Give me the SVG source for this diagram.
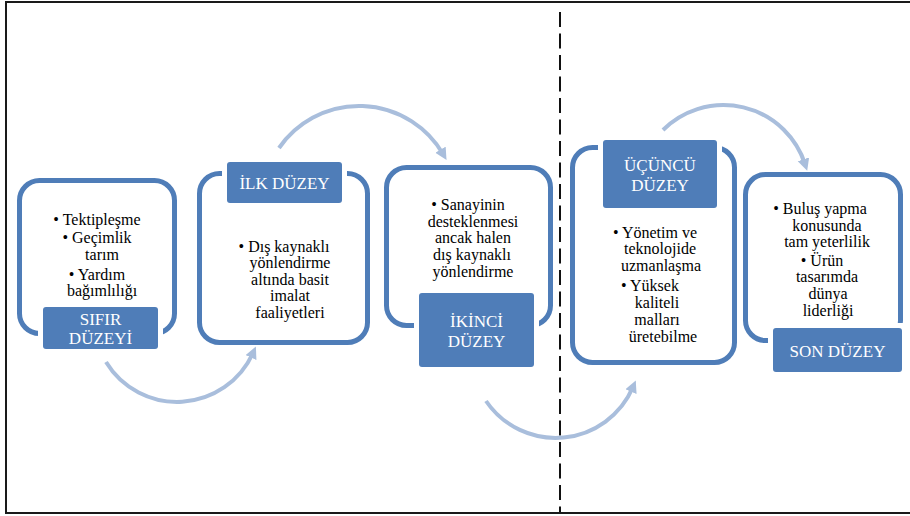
<svg xmlns="http://www.w3.org/2000/svg" width="910" height="516" viewBox="0 0 910 516">
<style>
.frame{stroke:#1a1a1a;stroke-width:2;fill:none}
.sep{stroke:#111;stroke-width:2;stroke-dasharray:15 6.5;fill:none}
.box{fill:#fff;stroke:#4f7db8;stroke-width:5}
.pad{fill:#fff}
.lab{fill:#4f7db8}
text{font-family:'Liberation Serif','Times New Roman',Times,Tinos,'Noto Serif','DejaVu Serif',FreeSerif,'Nimbus Roman',serif;text-anchor:middle}
.lt{font-size:17px;fill:#fff}
.bt{font-size:16px;fill:#000}
.arc{fill:none;stroke:#a9bedc;stroke-width:4}
</style>
<defs>
<marker id="ah" markerUnits="userSpaceOnUse" markerWidth="14" markerHeight="14" refX="5" refY="6" orient="auto">
<path d="M0,0 L12,6 L0,12 z" fill="#a9bedc"/>
</marker>
</defs>
<rect width="910" height="516" fill="#fff"/>
<g id="frame">
<line class="frame" x1="5" y1="2" x2="910" y2="2"/>
<line class="frame" x1="6" y1="1" x2="6" y2="514"/>
<line class="frame" x1="5" y1="513" x2="910" y2="513"/>
<line class="sep" x1="560" y1="12" x2="560" y2="512"/>
</g>
<g id="connectors">
<path class="arc" d="M106,362 A83.3,83.3 0 0 0 253,353" marker-end="url(#ah)"/>
<path class="arc" d="M279,148 A97.3,97.3 0 0 1 443,154" marker-end="url(#ah)"/>
<path class="arc" d="M486,401 A84.2,84.2 0 0 0 633,387" marker-end="url(#ah)"/>
<path class="arc" d="M663,130 A85.8,85.8 0 0 1 805,164" marker-end="url(#ah)"/>
</g>
<g id="sifir">
<rect class="box" x="19.5" y="180.5" width="155" height="153" rx="20"/>
<rect class="pad" x="38" y="302" width="125" height="52"/>
<rect class="lab" x="43" y="307" width="115" height="42" rx="3"/>
<text class="lt" x="100.5" y="325">SIFIR</text>
<text class="lt" x="100.5" y="344">DÜZEYİ</text>
<text class="bt" x="97" y="225">• Tektipleşme</text>
<text class="bt" x="97" y="243">• Geçimlik</text>
<text class="bt" x="102" y="260">tarım</text>
<text class="bt" x="97" y="280">• Yardım</text>
<text class="bt" x="102" y="296">bağımlılığı</text>
</g>
<g id="ilk">
<rect class="box" x="199.5" y="173.5" width="168" height="169" rx="20"/>
<rect class="pad" x="222" y="157" width="125" height="51"/>
<rect class="lab" x="227" y="162" width="115" height="41" rx="3"/>
<text class="lt" x="284.5" y="189">İLK DÜZEY</text>
<text class="bt" x="284" y="252">• Dış kaynaklı</text>
<text class="bt" x="290" y="268">yönlendirme</text>
<text class="bt" x="290" y="285">altında basit</text>
<text class="bt" x="290" y="301">imalat</text>
<text class="bt" x="290" y="318">faaliyetleri</text>
</g>
<g id="ikinci">
<rect class="box" x="386.5" y="167.5" width="164" height="158" rx="20"/>
<rect class="pad" x="414" y="288" width="125" height="84"/>
<rect class="lab" x="419" y="293" width="115" height="74" rx="3"/>
<text class="lt" x="476.5" y="327">İKİNCİ</text>
<text class="lt" x="476.5" y="347">DÜZEY</text>
<text class="bt" x="468" y="210">• Sanayinin</text>
<text class="bt" x="473" y="227">desteklenmesi</text>
<text class="bt" x="473" y="243">ancak halen</text>
<text class="bt" x="472" y="260">dış kaynaklı</text>
<text class="bt" x="473" y="277">yönlendirme</text>
</g>
<g id="ucuncu">
<rect class="box" x="572.5" y="147.5" width="162" height="215" rx="20"/>
<rect class="pad" x="598" y="135" width="124" height="78"/>
<rect class="lab" x="603" y="140" width="114" height="68" rx="3"/>
<text class="lt" x="660" y="171">ÜÇÜNCÜ</text>
<text class="lt" x="660" y="191">DÜZEY</text>
<text class="bt" x="655" y="238">• Yönetim ve</text>
<text class="bt" x="660" y="254">teknolojide</text>
<text class="bt" x="661" y="271">uzmanlaşma</text>
<text class="bt" x="650" y="291">• Yüksek</text>
<text class="bt" x="657" y="308">kaliteli</text>
<text class="bt" x="657" y="325">malları</text>
<text class="bt" x="663" y="342">üretebilme</text>
</g>
<g id="son">
<rect class="box" x="745.5" y="174.5" width="155" height="166" rx="20"/>
<rect class="pad" x="768" y="323" width="142" height="54"/>
<rect class="lab" x="773" y="328" width="129" height="44" rx="3"/>
<text class="lt" x="837.5" y="357">SON DÜZEY</text>
<text class="bt" x="820" y="214">• Buluş yapma</text>
<text class="bt" x="827" y="231">konusunda</text>
<text class="bt" x="827" y="247">tam yeterlilik</text>
<text class="bt" x="822" y="266">• Ürün</text>
<text class="bt" x="827" y="282">tasarımda</text>
<text class="bt" x="828" y="299">dünya</text>
<text class="bt" x="828" y="316">liderliği</text>
</g>
</svg>
